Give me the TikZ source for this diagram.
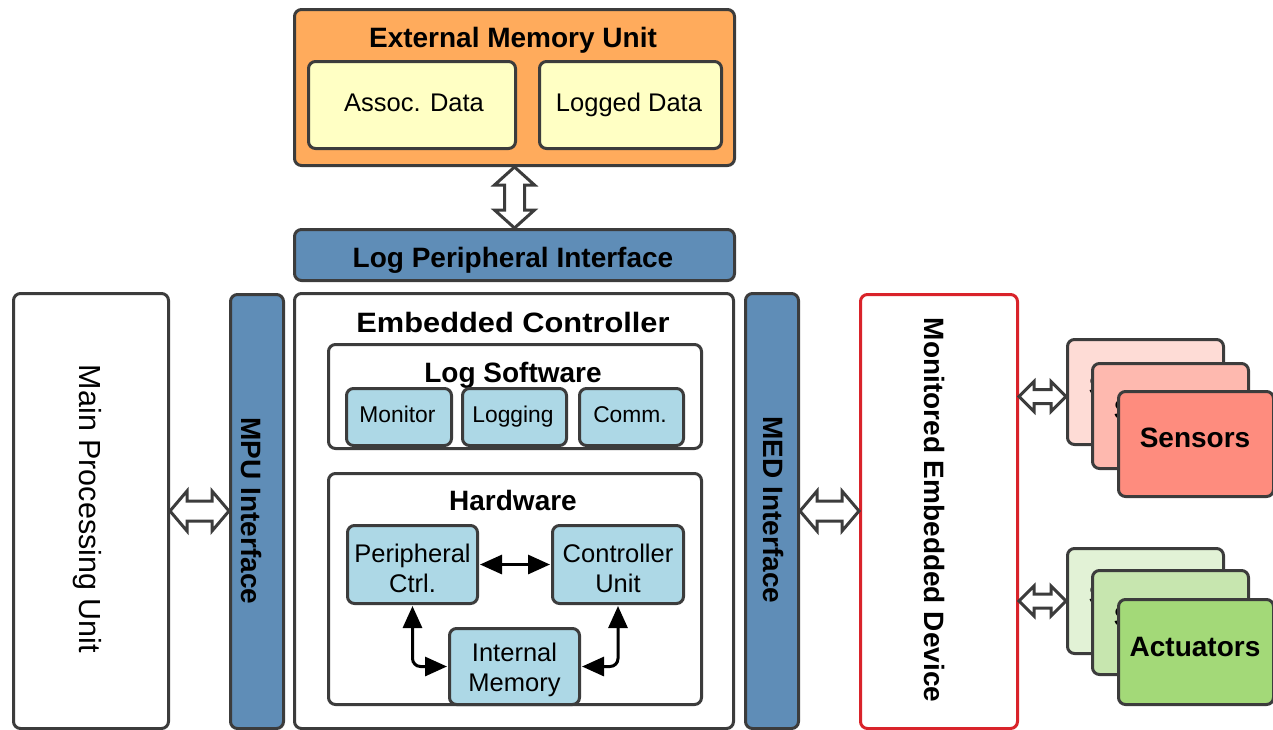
\documentclass[tikz,border=0pt]{standalone}
\usepackage{fontspec}
\setmainfont{Liberation Sans}
\usepackage{graphicx}
\usetikzlibrary{arrows.meta,calc}
\definecolor{lc}{HTML}{3C3C3C}
\definecolor{orangeF}{HTML}{FFAB5C}
\definecolor{yellowF}{HTML}{FFFFC4}
\definecolor{ifaceF}{HTML}{5F8DB7}
\definecolor{lblueF}{HTML}{ADD8E6}
\definecolor{redL}{HTML}{D9232A}
\definecolor{senA}{HTML}{FEDCD6}
\definecolor{senB}{HTML}{FEB9AF}
\definecolor{senC}{HTML}{FE8C7E}
\definecolor{actA}{HTML}{E2F2D6}
\definecolor{actB}{HTML}{C7E6AF}
\definecolor{actC}{HTML}{A3D978}
% box: options, name, x1, y1, x2, y2
\newcommand\bx[6][]{\node[box,#1,minimum width={#5-#3},minimum height={#6-#4}] (#2) at (#3,#4) {};}
% horizontal hollow double arrow: left tip, right tip, half head, half shaft, head length
\newcommand\hollowH[5]{\draw[hollow] let \p1=#1, \p2=#2 in
  (\x1,\y1) -- (\x1+#5,\y1+#3) -- (\x1+#5,\y1+#4) -- (\x2-#5,\y1+#4) -- (\x2-#5,\y1+#3) -- (\x2,\y1)
  -- (\x2-#5,\y1-#3) -- (\x2-#5,\y1-#4) -- (\x1+#5,\y1-#4) -- (\x1+#5,\y1-#3) -- cycle;}
% vertical hollow double arrow: top tip, bottom tip, half head, half shaft, head length
\newcommand\hollowV[5]{\draw[hollow] let \p1=#1, \p2=#2 in
  (\x1,\y1) -- (\x1+#3,\y1-#5) -- (\x1+#4,\y1-#5) -- (\x1+#4,\y2+#5) -- (\x1+#3,\y2+#5) -- (\x1,\y2)
  -- (\x1-#3,\y2+#5) -- (\x1-#4,\y2+#5) -- (\x1-#4,\y1-#5) -- (\x1-#3,\y1-#5) -- cycle;}
\begin{document}
\begin{tikzpicture}[x=1pt,y=-1pt,
  box/.style={draw=lc,line width=3pt,rounded corners=7pt,inner sep=0pt,anchor=north west},
  ttl/.style={font=\fontsize{28}{32}\selectfont\bfseries,inner sep=0pt},
  bttl/.style={ttl,anchor=base},
  vttl/.style={ttl,rotate=-90,text depth=0pt},
  lbl/.style={font=\fontsize{25.5}{30}\selectfont,inner sep=0pt,anchor=base},
  lbl2/.style={font=\fontsize{25.5}{30}\selectfont,inner sep=0pt,align=center},
  sml/.style={font=\fontsize{22.8}{26}\selectfont,inner sep=0pt,anchor=base},
  hollow/.style={draw=lc,fill=white,line width=3pt,line join=miter},
  arr/.style={draw=black,line width=3pt,{Triangle[length=22pt,width=19pt]}-{Triangle[length=22pt,width=19pt]}},
]
\useasboundingbox (0,0) rectangle (1273,729);
% External memory
\bx[fill=orangeF]{emu}{293}{8}{733}{164}
\node[bttl] (emut) at (513,47) {External Memory Unit};
\bx[fill=yellowF]{assoc}{307}{60}{514}{147}
\node[lbl] (assoct) at (414,111) {Assoc. Data};
\bx[fill=yellowF]{logged}{538}{60}{720}{147}
\node[lbl] (loggedt) at (629,111) {Logged Data};
% Log peripheral interface
\bx[fill=ifaceF]{lpi}{293}{228}{733}{279}
\node[bttl] (lpit) at (513,267) {Log Peripheral Interface};
\hollowV{(emu.south)}{(lpi.north)}{20pt}{10pt}{18pt}
% Main processing unit
\bx[fill=white]{main}{12}{292}{167}{727}
\node[rotate=-90,font=\fontsize{30.5}{34}\selectfont,inner sep=0pt,text depth=0pt] (maint) at (91,509) {Main Processing Unit};
% MPU interface
\bx[fill=ifaceF]{mpu}{229}{293}{282}{727}
\node[vttl] (mput) at (251.5,511) {MPU Interface};
\hollowH{(main.east)}{(mpu.west)}{20pt}{10pt}{17pt}
% Embedded controller
\bx[fill=white]{ec}{293}{292}{732}{727}
\node[bttl] (ect) at (513,332) {\scalebox{1.1}[1]{Embedded Controller}};
\bx[fill=white]{lsw}{327}{343}{700}{447}
\node[bttl] (lswt) at (513,382) {Log Software};
\bx[fill=lblueF]{mon}{345}{387}{450}{444}
\node[sml] (mont) at (397.5,422) {Monitor};
\bx[fill=lblueF]{logg}{461}{387}{565}{444}
\node[sml] (loggt) at (513,422) {Logging};
\bx[fill=lblueF]{comm}{578}{387}{682}{444}
\node[sml] (commt) at (630,422) {Comm.};
\bx[fill=white]{hw}{327}{472}{700}{703}
\node[bttl] (hwt) at (513,510) {Hardware};
\bx[fill=lblueF]{peri}{346}{524}{476}{602}
\node[lbl2] (perit) at ($(peri.center)+(0,4)$) {Peripheral\\Ctrl.};
\bx[fill=lblueF]{ctrl}{551}{524}{682}{602}
\node[lbl2] (ctrlt) at ($(ctrl.center)+(0,4)$) {Controller\\Unit};
\bx[fill=lblueF]{imem}{448}{627}{578}{703}
\node[lbl2] (imemt) at ($(imem.center)+(0,3)$) {Internal\\Memory};
\draw[arr,shorten <=1pt,shorten >=1pt] (peri.east) -- (ctrl.west);
\draw[arr,rounded corners=8pt,shorten <=1pt,shorten >=1pt] (peri.south) |- (imem.west);
\draw[arr,rounded corners=8pt,shorten <=1pt,shorten >=1pt] (ctrl.south) |- (imem.east);
% MED interface
\bx[fill=ifaceF]{med}{744}{292}{797}{727}
\node[vttl] (medt) at (773.5,510) {MED Interface};
% Monitored embedded device
\bx[draw=redL,fill=white]{mdev}{859}{293}{1016}{727}
\node[vttl] (mdevt) at (935,510) {Monitored Embedded Device};
\hollowH{(med.east)}{(mdev.west)}{20pt}{10pt}{17pt}
% Sensors
\bx[fill=senA]{senA}{1066}{338}{1222}{443}
\node[bttl] (senAt) at (1144,395) {Sensors};
\bx[fill=senB]{senB}{1091}{362}{1247}{467}
\node[bttl] (senBt) at (1169,419) {Sensors};
\bx[fill=senC]{senC}{1117}{390}{1272}{495}
\node[bttl] (senCt) at (1195,447) {Sensors};
\hollowH{([yshift=-4.5pt]mdev.east |- senA.west)}{([yshift=-4.5pt]senA.west)}{15pt}{7pt}{15pt}
% Actuators
\bx[fill=actA]{actA}{1066}{547}{1222}{652}
\node[bttl] (actAt) at (1144,604) {Sensors};
\bx[fill=actB]{actB}{1091}{569}{1247}{673}
\node[bttl] (actBt) at (1169,626) {Sensors};
\bx[fill=actC]{actC}{1117}{598}{1272}{703}
\node[bttl] (actCt) at (1195,656) {Actuators};
\hollowH{(mdev.east |- actA.west)}{(actA.west)}{15pt}{7pt}{15pt}
\end{tikzpicture}
\end{document}
